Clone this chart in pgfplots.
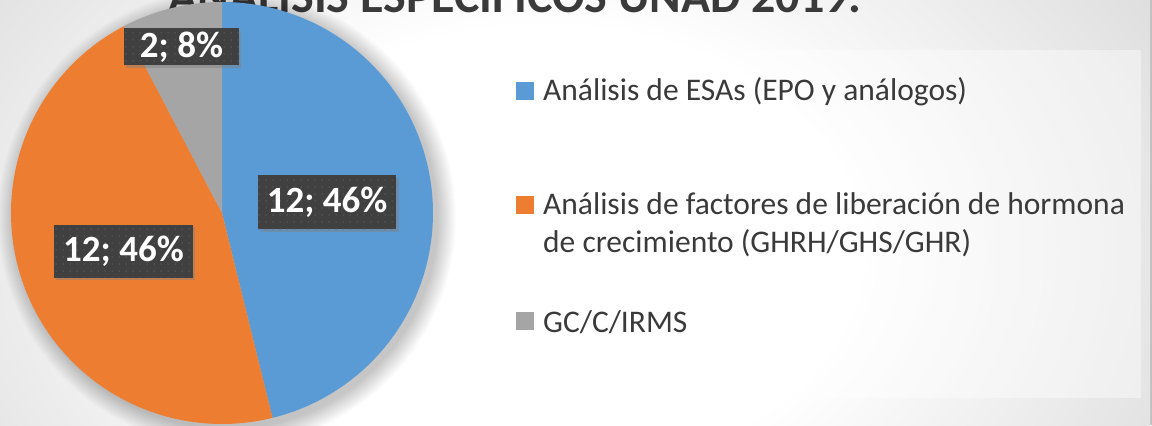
\documentclass[border=0pt]{standalone}
\usepackage{pgfplots}
\pgfplotsset{compat=1.18}
\usepackage{pgfplotstable}
\usepackage{fontspec}
\setmainfont{Carlito}
\usetikzlibrary{patterns.meta,shadows}

\definecolor{pieblue}{HTML}{5B9BD5}
\definecolor{pieorange}{HTML}{ED7D31}
\definecolor{piegray}{HTML}{A5A5A5}
\definecolor{lblbox}{HTML}{404040}
\definecolor{lbldot}{HTML}{5E5E5E}
\definecolor{txt}{HTML}{3A3A3A}
\definecolor{bgg}{HTML}{C0C0C0}

\pgfdeclareradialshading{bgshade}{\pgfpoint{0bp}{0bp}}{%
  color(0bp)=(white); color(13bp)=(white); color(44bp)=(bgg); color(100bp)=(bgg)}

\pgfplotstableread{
label value
ESAs 12
GHRH 12
IRMS 2
}\piedata

\pgfplotstablegetelem{0}{value}\of\piedata \let\va\pgfplotsretval
\pgfplotstablegetelem{1}{value}\of\piedata \let\vb\pgfplotsretval
\pgfplotstablegetelem{2}{value}\of\piedata \let\vc\pgfplotsretval
\pgfmathsetmacro\total{\va+\vb+\vc}
\pgfmathsetmacro\aA{90}
\pgfmathsetmacro\aB{90-360*\va/\total}
\pgfmathsetmacro\aC{\aB-360*\vb/\total}
\pgfmathsetmacro\aD{\aC-360*\vc/\total}

\tikzset{lbl/.style={fill=lblbox, text=white, font=\fontsize{37bp}{40bp}\selectfont\bfseries,
  inner sep=0pt, align=center,
  drop shadow={opacity=0.45, shadow xshift=2.5bp, shadow yshift=-2.5bp},
  postaction={pattern={Dots[distance=7bp,radius=0.75bp]}, pattern color=lbldot}}}

\begin{document}
\begin{tikzpicture}[x=1bp,y=1bp]
\path[use as bounding box] (0,0) rectangle (1152,425);
\clip (0,0) rectangle (1152,425);
% background
\fill[bgg] (0,0) rectangle (1152,425);
\shade[shading=bgshade] (-60,-255) rectangle (1150,605);
% legend panel
\fill[white, opacity=0.4] (505,27) rectangle (1141,375);
% title (cut at top)
\node[anchor=base, text=txt, font=\fontsize{48bp}{52bp}\selectfont\bfseries, inner sep=0pt]
  at (515,412) {ANÁLISIS ESPECÍFICOS UNAD 2019.};
% pie shadow
\foreach \r in {211,212,...,229} {\fill[black, opacity=0.013] (227,207) circle (\r);}

\begin{axis}[at={(222bp,212bp)}, anchor=center, x=211bp, y=211bp,
  xmin=-1, xmax=1, ymin=-1, ymax=1, hide axis, clip=false, scale only axis]
\addplot[fill=pieblue, draw=none, domain=\aB:\aA, samples=150, variable=\t]
  ({cos(\t)}, {sin(\t)}) -- (axis cs:0,0) -- cycle;
\addplot[fill=pieorange, draw=none, domain=\aC:\aB, samples=150, variable=\t]
  ({cos(\t)}, {sin(\t)}) -- (axis cs:0,0) -- cycle;
\addplot[fill=piegray, draw=none, domain=\aD:\aC, samples=30, variable=\t]
  ({cos(\t)}, {sin(\t)}) -- (axis cs:0,0) -- cycle;
\node[lbl, minimum width=138bp, minimum height=54bp] at (axis cs:0.498,0.052) {12; 46\%};
\node[lbl, minimum width=139bp, minimum height=53bp] at (axis cs:-0.467,-0.182) {12; 46\%};
\node[lbl, minimum width=115bp, minimum height=37bp] at (axis cs:-0.192,0.787) {2; 8\%};
\end{axis}

% legend
\fill[pieblue] (516,325) rectangle (534,343);
\fill[pieorange] (516,211) rectangle (534,229);
\fill[piegray] (516,95) rectangle (534,113);
\begin{scope}[every node/.style={anchor=base west, inner sep=0pt, text=txt,
  font=\fontsize{31.5bp}{38bp}\selectfont}]
\node at (543,325) {Análisis de ESAs (EPO y análogos)};
\node at (543,211) {Análisis de factores de liberación de hormona};
\node at (543,173) {de crecimiento (GHRH/GHS/GHR)};
\node at (543,93) {GC/C/IRMS};
\end{scope}
\end{tikzpicture}
\end{document}
